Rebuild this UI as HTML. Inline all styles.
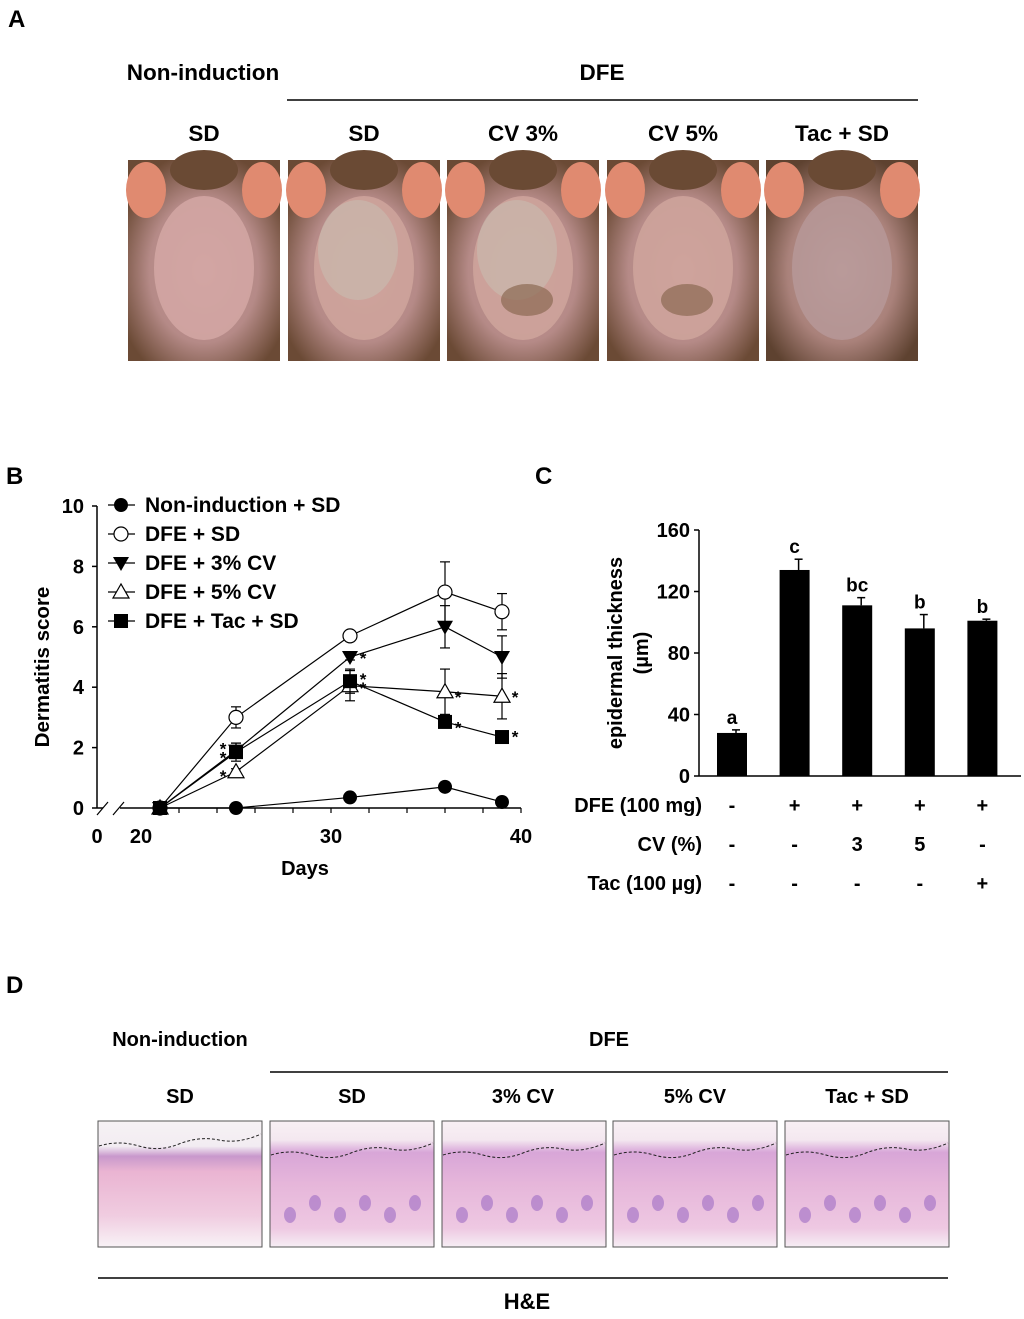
<!DOCTYPE html>
<html><head><meta charset="utf-8"><style>
body{margin:0;background:#fff}
svg{display:block;font-family:"Liberation Sans",Arial,sans-serif;font-weight:bold}
</style></head><body>
<svg id="fig" width="1024" height="1319" viewBox="0 0 1024 1319">
<defs>
<radialGradient id="skin" cx="50%" cy="55%" r="60%"><stop offset="0" stop-color="#c99a9a"/><stop offset="0.6" stop-color="#b58a87"/><stop offset="1" stop-color="#6b4a35"/></radialGradient>
<radialGradient id="skin2" cx="50%" cy="55%" r="60%"><stop offset="0" stop-color="#c8a8a4"/><stop offset="0.6" stop-color="#a9817a"/><stop offset="1" stop-color="#5e4230"/></radialGradient>
<linearGradient id="histo" x1="0" y1="0" x2="0" y2="1"><stop offset="0" stop-color="#f6f2f4"/><stop offset="0.2" stop-color="#f2ecf2"/><stop offset="0.28" stop-color="#c898cc"/><stop offset="0.4" stop-color="#eab4d2"/><stop offset="0.75" stop-color="#f0cce0"/><stop offset="1" stop-color="#f8f2f6"/></linearGradient>
<linearGradient id="histo2" x1="0" y1="0" x2="0" y2="1"><stop offset="0" stop-color="#f8f0f4"/><stop offset="0.15" stop-color="#f4e8f0"/><stop offset="0.25" stop-color="#d8a6d8"/><stop offset="0.5" stop-color="#e6b6da"/><stop offset="0.85" stop-color="#eec8e2"/><stop offset="1" stop-color="#f6eef4"/></linearGradient>
</defs>

<!-- Panel A -->
<text x="8" y="27" font-size="24">A</text>
<text x="203" y="80" font-size="22.5" text-anchor="middle">Non-induction</text>
<text x="602" y="80" font-size="22.5" text-anchor="middle">DFE</text>
<line x1="287" y1="100" x2="918" y2="100" stroke="#000" stroke-width="1.5"/>
<g font-size="22.5" text-anchor="middle">
<text x="204" y="141">SD</text>
<text x="364" y="141">SD</text>
<text x="523" y="141">CV 3%</text>
<text x="683" y="141">CV 5%</text>
<text x="842" y="141">Tac + SD</text>
</g>
<g id="photos"></g>

<!-- Panel B -->
<text x="6" y="484" font-size="24">B</text>
<g id="chartB"></g>

<!-- Panel C -->
<text x="535" y="484" font-size="24">C</text>
<g id="chartC"></g>

<!-- Panel D -->
<text x="6" y="993" font-size="24">D</text>
<text x="180" y="1046" font-size="20" text-anchor="middle">Non-induction</text>
<text x="609" y="1046" font-size="20" text-anchor="middle">DFE</text>
<line x1="270" y1="1072" x2="948" y2="1072" stroke="#000" stroke-width="1.5"/>
<g font-size="20" text-anchor="middle">
<text x="180" y="1103">SD</text>
<text x="352" y="1103">SD</text>
<text x="523" y="1103">3% CV</text>
<text x="695" y="1103">5% CV</text>
<text x="867" y="1103">Tac + SD</text>
</g>
<g id="histos"></g>
<line x1="98" y1="1278" x2="948" y2="1278" stroke="#000" stroke-width="1.5"/>
<text x="527" y="1309" font-size="22" text-anchor="middle">H&amp;E</text>
</svg>
<script>
const NS="http://www.w3.org/2000/svg";
function mk(tag,attrs,parent){const e=document.createElementNS(NS,tag);for(const k in attrs)e.setAttribute(k,attrs[k]);parent.appendChild(e);return e;}

// Photos
const photoX=[128,288,447,607,766];
const photoNames=['photo-non-induction-sd','photo-dfe-sd','photo-dfe-cv3','photo-dfe-cv5','photo-dfe-tac'];
const pg=document.getElementById('photos');
photoX.forEach((x,i)=>{
  const g=mk('g',{},pg);
  
  
  mk('rect',{x:x,y:160,width:152,height:201,fill:'#e8e6e4'},g);
  mk('rect',{x:x,y:160,width:152,height:201,fill:i==4?'url(#skin2)':'url(#skin)'},g);
  mk('ellipse',{cx:x+76,cy:170,rx:34,ry:20,fill:'#6a4a34'},g);
  mk('ellipse',{cx:x+18,cy:190,rx:20,ry:28,fill:'#e08a70'},g);
  mk('ellipse',{cx:x+134,cy:190,rx:20,ry:28,fill:'#e08a70'},g);
  mk('ellipse',{cx:x+76,cy:268,rx:50,ry:72,fill:i==0?'#d3a7a4':(i==4?'#b69898':'#cfa49c'),opacity:0.85},g);
  if(i==1||i==2){mk('ellipse',{cx:x+70,cy:250,rx:40,ry:50,fill:'#c8bcb0',opacity:0.6},g);}
  if(i==2||i==3){mk('ellipse',{cx:x+80,cy:300,rx:26,ry:16,fill:'#8c6a52',opacity:0.7},g);}
});

// Histology
const hX=[98,270,442,613,785];
const hNames=['histo-non-induction-sd','histo-dfe-sd','histo-cv3','histo-cv5','histo-tac'];
const hg=document.getElementById('histos');
hX.forEach((x,i)=>{
  const g=mk('g',{},hg);
  
  
  mk('rect',{x:x,y:1121,width:164,height:126,fill:i==0?'url(#histo)':'url(#histo2)',stroke:'#555','stroke-width':1},g);
  const yy=i==0?1146:1155;
  mk('path',{d:`M${x+1} ${yy} q20 -6 40 0 t40 -2 t40 -4 t42 -6`,fill:'none',stroke:'#222','stroke-width':1,'stroke-dasharray':'3,2'},g);
  if(i>0){for(let k=0;k<6;k++){mk('ellipse',{cx:x+20+k*25,cy:1215-(k%2)*12,rx:6,ry:8,fill:'#a878c8',opacity:0.7},g);}}
});

// Chart B data
const daysB=[21,25,31,36,39];
const nonInd=[0,0,0.35,0.7,0.2];
const nonIndErr=[0,0,0.1,0.15,0.1];
const dfeSd=[0,3,5.7,7.15,6.5];
const dfeSdErr=[0,0.35,0.1,1.0,0.6];
const cv3=[0,1.9,5,6,5];
const cv3Err=[0,0.25,0.1,0.7,0.7];
const cv5=[0,1.2,4.05,3.85,3.7];
const cv5Err=[0,0.1,0.5,0.75,0.75];
const tac=[0,1.85,4.2,2.85,2.35];
const tacErr=[0,0.3,0.4,0.1,0.1];
const yTicksB=[0,2,4,6,8,10];
const xTicksB=[20,30,40];
const legendB=['Non-induction + SD','DFE + SD','DFE + 3% CV','DFE + 5% CV','DFE + Tac + SD'];

const xB=d=>141+(d-20)*19;
const yB=v=>808-v*30.2;
const cb=document.getElementById('chartB');
let e;
e=mk('line',{x1:97,y1:yB(10),x2:97,y2:808,stroke:'#000','stroke-width':1.5},cb);

e=mk('line',{x1:97,y1:808,x2:103,y2:808,stroke:'#000','stroke-width':1.5},cb);
e=mk('line',{x1:120,y1:808,x2:xB(40),y2:808,stroke:'#000','stroke-width':1.5},cb);

mk('line',{x1:97,y1:815,x2:108,y2:802,stroke:'#000','stroke-width':1.2},cb);
mk('line',{x1:113,y1:815,x2:124,y2:802,stroke:'#000','stroke-width':1.2},cb);
yTicksB.forEach(t=>{
  mk('line',{x1:92,y1:yB(t),x2:97,y2:yB(t),stroke:'#000','stroke-width':1.5},cb);
  e=mk('text',{x:84,y:yB(t)+7,'font-size':20,'text-anchor':'end'},cb);e.textContent=t;
  
});
for(let d=22;d<=40;d+=2){mk('line',{x1:xB(d),y1:808,x2:xB(d),y2:813,stroke:'#000','stroke-width':1.2},cb);}
xTicksB.forEach(t=>{
  e=mk('text',{x:xB(t),y:843,'font-size':20,'text-anchor':'middle'},cb);e.textContent=t;
  
});
e=mk('text',{x:97,y:843,'font-size':20,'text-anchor':'middle'},cb);e.textContent='0';
e=mk('text',{x:305,y:875,'font-size':20,'text-anchor':'middle'},cb);e.textContent='Days';

e=mk('text',{x:0,y:0,'font-size':20.5,'text-anchor':'middle',transform:'translate(49,667) rotate(-90)'},cb);e.textContent='Dermatitis score';


function marker(g,type,x,y){
  if(type==0)return mk('circle',{cx:x,cy:y,r:7,fill:'#000'},g);
  if(type==1)return mk('circle',{cx:x,cy:y,r:7,fill:'#fff',stroke:'#000','stroke-width':1.2},g);
  if(type==2)return mk('path',{d:`M${x-8} ${y-6}L${x+8} ${y-6}L${x} ${y+8}Z`,fill:'#000'},g);
  if(type==3)return mk('path',{d:`M${x-8} ${y+6}L${x+8} ${y+6}L${x} ${y-8}Z`,fill:'#fff',stroke:'#000','stroke-width':1.2},g);
  return mk('rect',{x:x-7,y:y-7,width:14,height:14,fill:'#000'},g);
}
const seriesNames=['series-non-induction','series-dfe-sd','series-dfe-cv3','series-dfe-cv5','series-dfe-tac'];
const series=[[nonInd,nonIndErr],[dfeSd,dfeSdErr],[cv3,cv3Err],[cv5,cv5Err],[tac,tacErr]];
series.forEach((s,si)=>{
  const g=mk('g',{},cb);
  
  
  const [vals,errs]=s;
  mk('polyline',{points:vals.map((v,i)=>xB(daysB[i])+','+yB(v)).join(' '),fill:'none',stroke:'#000','stroke-width':1.2},g);
  vals.forEach((v,i)=>{
    if(errs[i]>0.05){
      const x=xB(daysB[i]);
      mk('line',{x1:x,y1:yB(v-errs[i]),x2:x,y2:yB(v+errs[i]),stroke:'#000','stroke-width':1.2},g);
      mk('line',{x1:x-5,y1:yB(v+errs[i]),x2:x+5,y2:yB(v+errs[i]),stroke:'#000','stroke-width':1.2},g);
      mk('line',{x1:x-5,y1:yB(v-errs[i]),x2:x+5,y2:yB(v-errs[i]),stroke:'#000','stroke-width':1.2},g);
    }
  });
  vals.forEach((v,i)=>{
    const m=marker(g,si,xB(daysB[i]),yB(v));
    
    
  });
});
const stars=[[25,2.1,-1],[25,1.8,-1],[25,1.2,-1],[31,5.1,1],[31,4.4,1],[31,4.1,1],[36,3.8,1],[36,2.8,1],[39,3.8,1],[39,2.5,1]];
stars.forEach(s=>{
  e=mk('text',{x:xB(s[0])+s[2]*13,y:yB(s[1])+10,'font-size':17,'text-anchor':'middle'},cb);e.textContent='*';
});
legendB.forEach((l,i)=>{
  const y=505+i*29;
  const g=mk('g',{},cb);
  
  
  mk('line',{x1:108,y1:y,x2:135,y2:y,stroke:'#000','stroke-width':1.2},g);
  marker(g,i,121,y);
  e=mk('text',{x:145,y:y+7,'font-size':21},g);e.textContent=l;
});

// Chart C data
const groupsC=['g1','g2','g3','g4','g5'];
const thick=[28,134,111,96,101];
const thickErr=[2,7,5,9,1];
const letters=['a','c','bc','b','b'];
const yTicksC=[0,40,80,120,160];
const rowDFE=['-','+','+','+','+'];
const rowCV=['-','-','3','5','-'];
const rowTac=['-','-','-','-','+'];
const cc=document.getElementById('chartC');
const yC=v=>776-v*1.5375;
const xC=i=>732+i*62.6;
e=mk('line',{x1:699,y1:yC(160),x2:699,y2:776,stroke:'#000','stroke-width':1.5},cc);

e=mk('line',{x1:699,y1:776,x2:1021,y2:776,stroke:'#000','stroke-width':1.5},cc);

yTicksC.forEach(t=>{
  mk('line',{x1:694,y1:yC(t),x2:699,y2:yC(t),stroke:'#000','stroke-width':1.5},cc);
  e=mk('text',{x:690,y:yC(t)+7,'font-size':20,'text-anchor':'end'},cc);e.textContent=t;
  
});
e=mk('text',{x:0,y:0,'font-size':20,'text-anchor':'middle',transform:'translate(622,653) rotate(-90)'},cc);e.textContent='epidermal thickness';

e=mk('text',{x:0,y:0,'font-size':20,'text-anchor':'middle',transform:'translate(648,653) rotate(-90)'},cc);e.textContent='(µm)';
thick.forEach((v,i)=>{
  const x=xC(i);
  const top=yC(v+thickErr[i]);
  mk('line',{x1:x+4,y1:top,x2:x+4,y2:yC(v),stroke:'#000','stroke-width':1.5},cc);
  mk('line',{x1:x,y1:top,x2:x+8,y2:top,stroke:'#000','stroke-width':1.5},cc);
  e=mk('rect',{x:x-15,y:yC(v),width:30,height:776-yC(v),fill:'#000'},cc);
  
  
  e=mk('text',{x:x,y:top-6,'font-size':19,'text-anchor':'middle'},cc);e.textContent=letters[i];
  
});
const rows=[['DFE (100 mg)',rowDFE,812],['CV (%)',rowCV,851],['Tac (100 µg)',rowTac,890]];
rows.forEach(r=>{
  e=mk('text',{x:702,y:r[2],'font-size':20,'text-anchor':'end'},cc);e.textContent=r[0];
  
  r[1].forEach((s,i)=>{e=mk('text',{x:xC(i),y:r[2],'font-size':20,'text-anchor':'middle'},cc);e.textContent=s;});
});
</script>
</body></html>
